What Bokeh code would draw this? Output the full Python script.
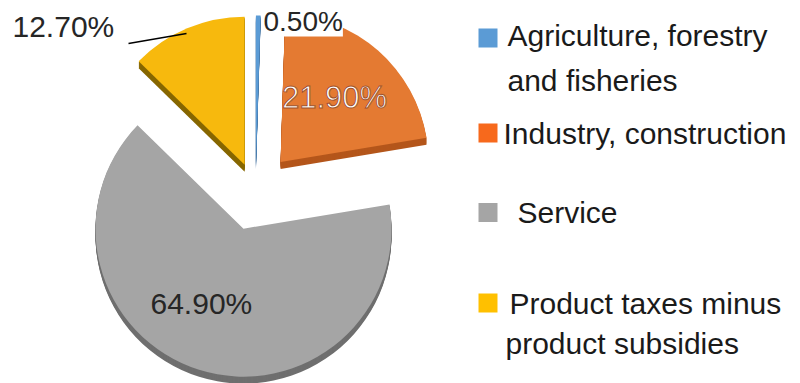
import numpy as np
from bokeh.plotting import figure
from bokeh.models import Range1d, Label
from bokeh.embed import file_html
from bokeh.resources import INLINE

# ---- data ----
categories = ["Agriculture, forestry and fisheries", "Industry, construction",
              "Service", "Product taxes minus product subsidies"]
values = [0.5, 21.9, 64.9, 12.7]
value_labels = ["0.50%", "21.90%", "64.90%", "12.70%"]
legend_lines = [["Agriculture, forestry", "and fisheries"],
                ["Industry, construction"],
                ["Service"],
                ["Product taxes minus", "product subsidies"]]

# ---- style ----
top_colors = ["#5B9BD5", "#E47A32", "#A5A5A5", "#F7B90D"]
side_colors = ["#3E6F9F", "#B4561B", "#6F6F6F", "#876700"]
legend_colors = ["#5B9BD5", "#F7691C", "#A5A5A5", "#FFC000"]
explode = np.array([27, 38, 40, 28])
FONT = "Liberation Sans"

W, H = 800, 383
p = figure(width=W, height=H, x_range=Range1d(0, W), y_range=Range1d(0, H),
           toolbar_location=None, output_backend="svg", min_border=0)
p.axis.visible = False
p.grid.visible = False
p.outline_line_color = None
p.background_fill_color = "white"
p.border_fill_color = "white"

cx, cy = 255, H - 190
R = 148
depth = 7

vals = np.array(values, dtype=float)
frac = vals / vals.sum()
ends = np.cumsum(frac) * 360.0
starts = ends - frac * 360.0
mids = (starts + ends) / 2.0
xs = cx + explode * np.sin(np.radians(mids))
ys = cy + explode * np.cos(np.radians(mids))
sa = np.radians(90.0 - ends)
ea = np.radians(90.0 - starts)

for k in range(depth, 0, -1):
    p.wedge(x=list(xs), y=list(ys - k), radius=R, start_angle=list(sa), end_angle=list(ea),
            fill_color=side_colors, line_color=None)
p.wedge(x=list(xs), y=list(ys), radius=R, start_angle=list(sa), end_angle=list(ea),
        fill_color=top_colors, line_color=None)

# data labels
p.line([128, 186], [H - 43, H - 33], line_color="black", line_width=1.3)
p.add_layout(Label(x=12, y=H - 26, text=value_labels[3], text_font=FONT,
                   text_font_size="30px", text_color="#262626", text_baseline="middle"))
p.add_layout(Label(x=263, y=H - 20.5, text=value_labels[0], text_font=FONT,
                   text_font_size="28px", text_color="#262626", text_baseline="middle",
                   background_fill_color="white"))
p.add_layout(Label(x=334, y=H - 97, text=value_labels[1], text_font=FONT,
                   text_font_size="31px", text_color="white", text_align="center",
                   text_baseline="middle", text_outline_color="#A0522D"))
p.add_layout(Label(x=150, y=H - 302.5, text=value_labels[2], text_font=FONT,
                   text_font_size="30px", text_color="#262626", text_baseline="middle"))

# legend
sq_y = [37.5, 132.5, 212, 302.5]
p.rect(x=[487.5] * 4, y=[H - v for v in sq_y], width=19, height=19,
       fill_color=legend_colors, line_color=None)
text_pos = [[(507, 35), (507, 80)], [(503, 133)], [(517, 212)], [(509, 302.5), (505, 343)]]
for lines, poss in zip(legend_lines, text_pos):
    for t, (tx, ty) in zip(lines, poss):
        p.add_layout(Label(x=tx, y=H - ty, text=t, text_font=FONT, text_font_size="30px",
                           text_color="#1A1A1A", text_baseline="middle"))

open("out.html", "w").write(file_html(p, INLINE))
